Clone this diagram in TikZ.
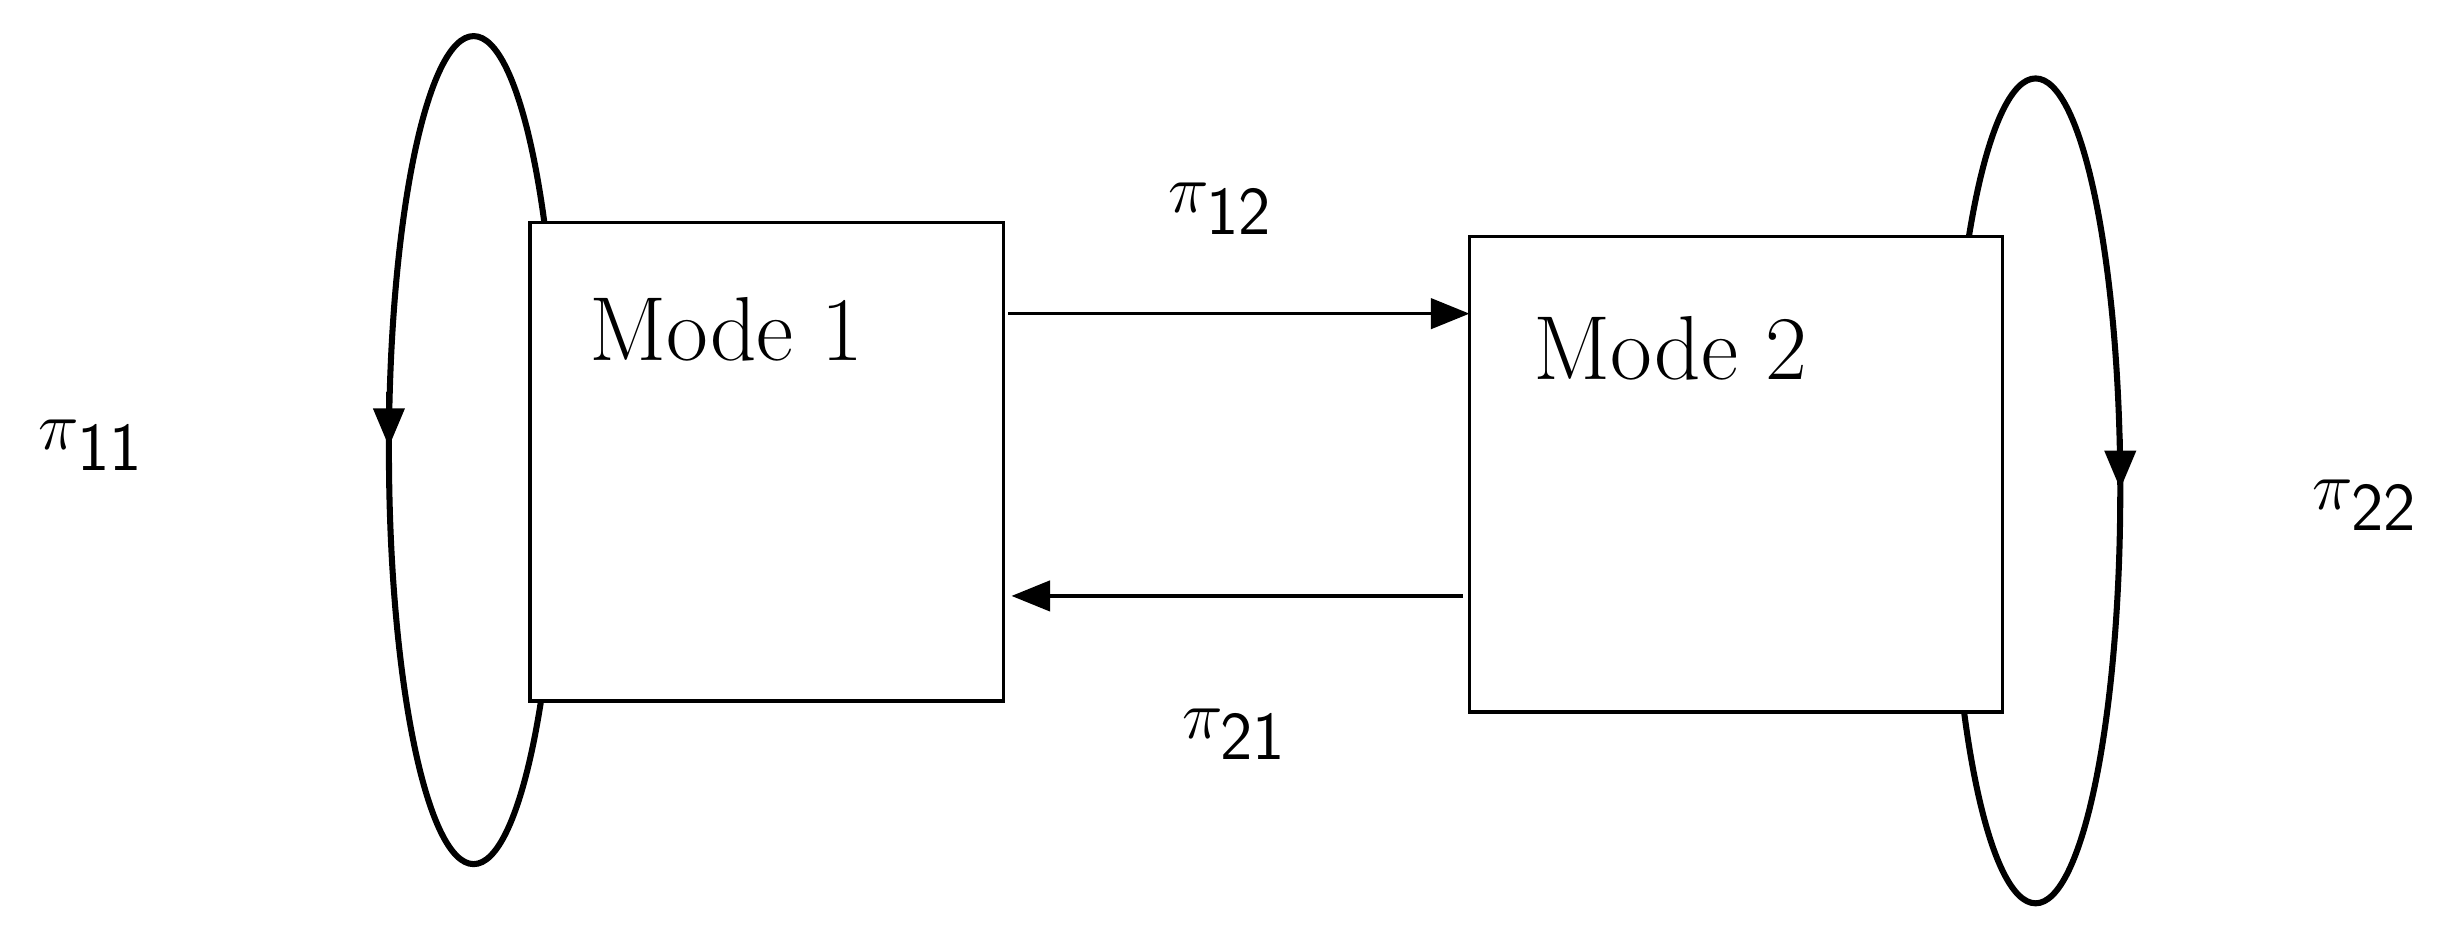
\documentclass[tikz,border=0pt]{standalone}
\usetikzlibrary{arrows.meta}
\begin{document}
\begin{tikzpicture}[x=0.02cm,y=-0.02cm,
  box/.style={draw,line width=1.2pt,fill=white,minimum width=#1,inner sep=0},
  loop/.style={line width=2.2pt},
  tip/.style={-{Triangle[length=14pt,width=11pt]}},
  lab/.style={font=\fontsize{33}{38}\selectfont},
  plab/.style={font=\fontsize{34}{38}\selectfont}]
\useasboundingbox (0,0) rectangle (1568,599);
\draw[loop] (302,287) ellipse [x radius=54, y radius=264];
\draw[loop] (1298,313) ellipse [x radius=54, y radius=263];
\draw[loop,tip] (248,250) -- (248,285);
\draw[loop,tip] (1352,280) -- (1352,312);
\draw[box] (338,142) rectangle (640,447);
\draw[box] (937,151) rectangle (1277,454);
\node[lab] (m1) at (463,210) {Mode 1};
\node[lab] (m2) at (1065,222) {Mode 2};
\coordinate (a1) at (643,200); \coordinate (a2) at (937,200);
\coordinate (b1) at (933,380); \coordinate (b2) at (645,380);
\draw[line width=1.3pt,tip] (a1) -- (a2);
\draw[line width=1.3pt,tip] (b1) -- (b2);
\node[plab] (p12) at (778,133) {$\pi_{\mathsf{12}}$};
\node[plab] (p21) at (787,468) {$\pi_{\mathsf{21}}$};
\node[plab] (p11) at (58,284) {$\pi_{\mathsf{11}}$};
\node[plab] (p22) at (1508,322) {$\pi_{\mathsf{22}}$};
\end{tikzpicture}
\end{document}
